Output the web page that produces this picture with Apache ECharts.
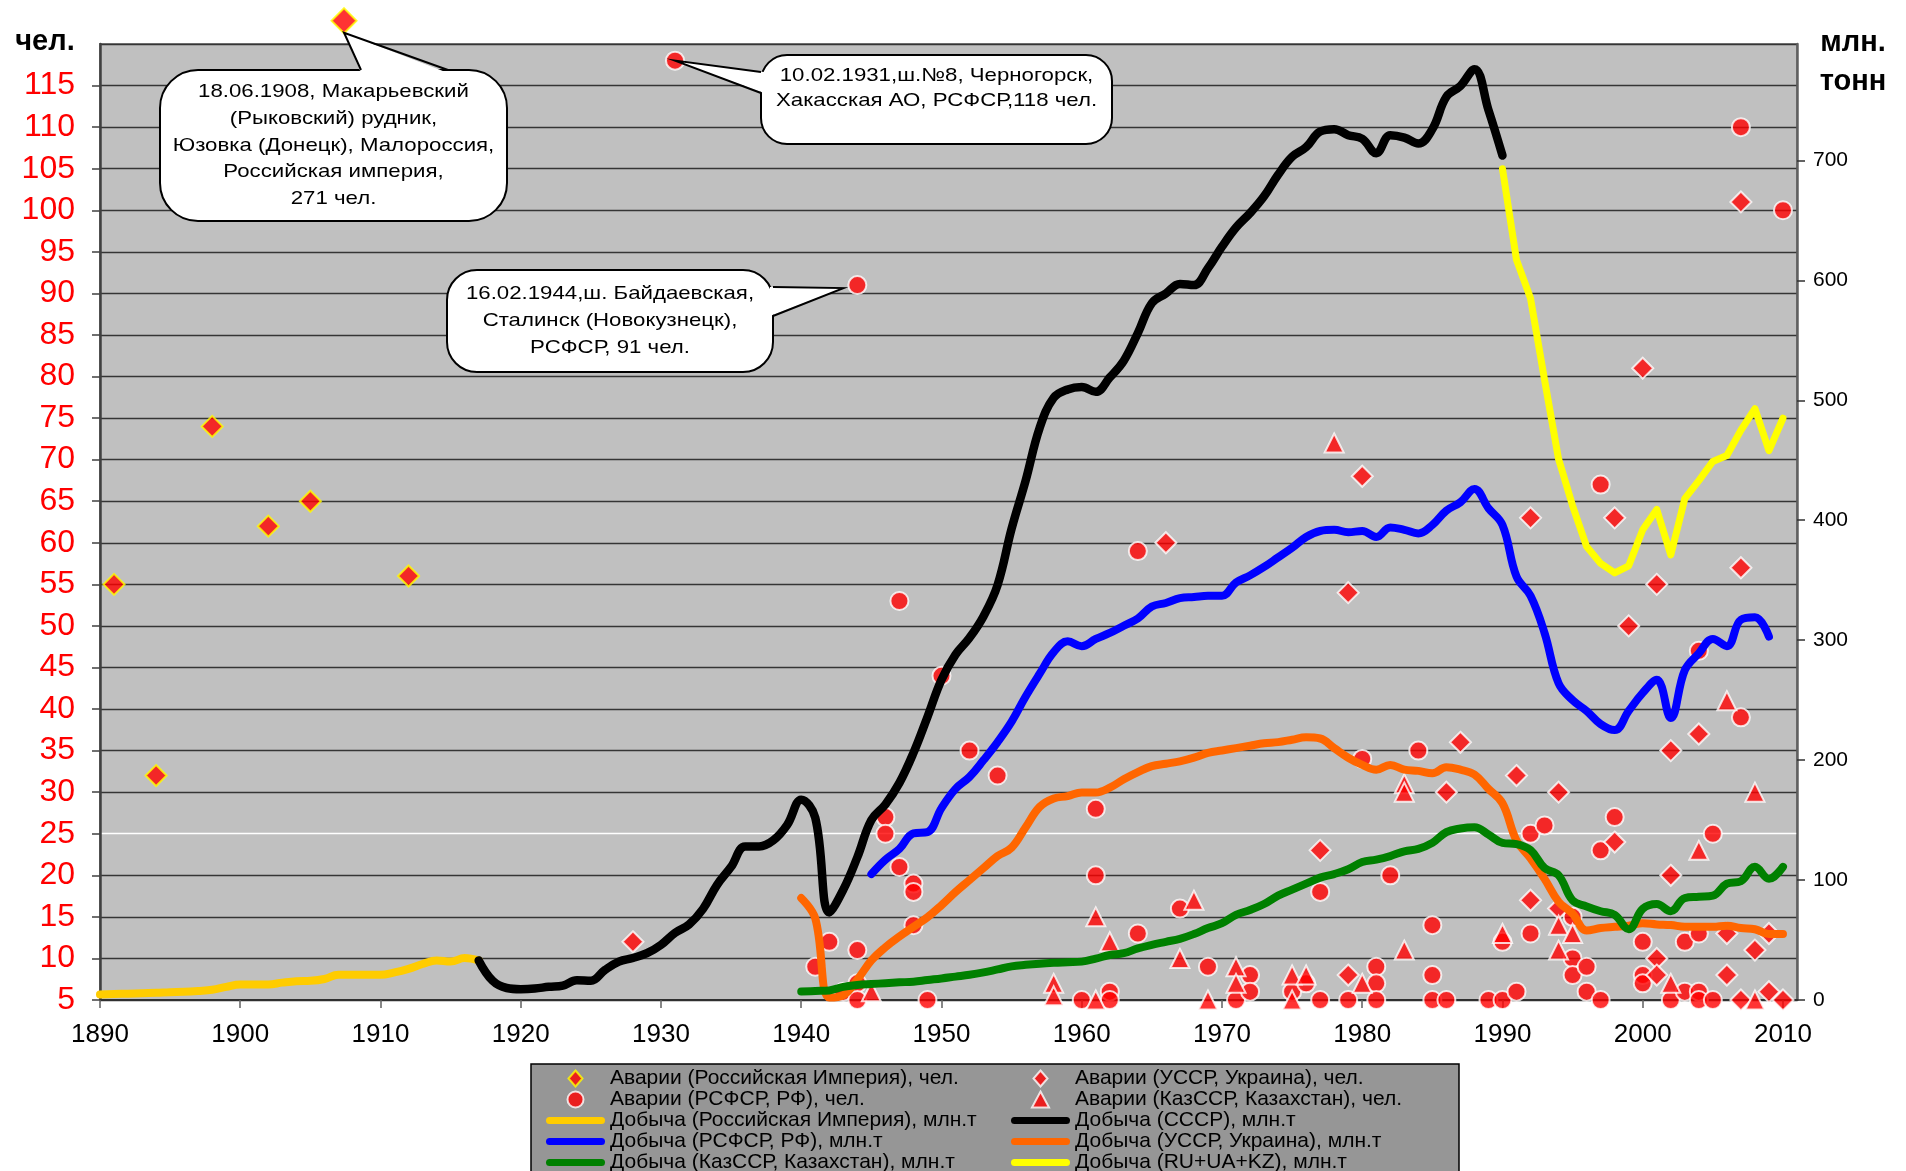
<!DOCTYPE html>
<html>
<head>
<meta charset="utf-8">
<title>Добыча угля и аварии на шахтах</title>
<script src="https://cdn.jsdelivr.net/npm/echarts@6/dist/echarts.min.js"></script>
<style>
  html, body { margin: 0; padding: 0; background: #ffffff; }
  #chart { width: 1906px; height: 1171px; }
</style>
</head>
<body>
<div id="chart"></div>
<script>
// ---------- данные ----------
// добыча, млн.т (по годам, начиная с указанного года)
const reStart = 1890;   // Российская Империя
const reOutput = [4.5, 5, 5.3, 5.7, 6, 6.5, 6.8, 7.5, 8.5, 11, 13, 13, 13, 14.5, 15.7, 16, 17.5, 21, 21, 21,
  21, 23, 26, 30, 33, 32, 35, 33];

const ussrStart = 1917; // СССР
const ussrOutput = [33, 16, 10, 9, 9.5, 11, 12, 16.5, 16, 25, 32, 35, 39, 46, 56, 63, 76, 96, 111, 128,
  128, 133, 146, 167, 152, 73, 92, 119, 150, 163, 181, 206, 236, 267, 288, 302, 320, 346, 393, 433,
  477, 502, 509, 511, 507, 519, 533, 556, 581, 589, 597, 596, 610, 628, 644, 656, 670, 688, 703, 711,
  724, 726, 721, 718, 706, 721, 719, 714, 726, 753, 762, 776, 742, 704];

const ruStart = 1945;   // РСФСР, РФ
const ruOutput = [105, 117, 126, 139, 140, 160, 176, 186, 200, 215, 232, 253, 272, 290, 299, 295, 301, 306,
  312, 318, 328, 331, 335, 336, 337, 337, 348, 354, 361, 369, 377, 386, 391, 392, 390, 391, 386, 394,
  392, 389, 396, 408, 415, 426, 410, 396, 353, 337, 306, 264, 250, 241, 230, 225, 241, 256, 267, 235,
  275, 289, 301, 295, 317, 319, 303];

const uaStart = 1940;   // УССР, Украина
const uaOutput = [85, 68, 2, 4, 17, 33, 44, 53, 61, 69, 79, 90, 100, 110, 120, 127, 144, 161, 168, 170,
  173, 173, 177, 184, 190, 195, 197, 199, 202, 206, 208, 210, 212, 214, 215, 217, 219, 218, 210, 202,
  196, 192, 196, 192, 191, 189, 194, 192, 188, 176, 164, 133, 118, 101, 82, 72, 58, 60, 61, 62,
  64, 63, 62.5, 61, 61, 61, 62, 60, 59, 55, 55];

const kzStart = 1940;   // КазССР, Казахстан
const kzOutput = [7, 7.5, 8, 11, 12.5, 13.3, 14, 14.7, 15.3, 16.7, 18, 19.5, 21, 23, 25.5, 28, 29.3, 30.3, 31, 31.5,
  32, 34.5, 37.5, 39, 43, 46, 48.5, 51, 55, 60, 64, 71, 75, 80, 87, 92, 97, 102, 105, 109,
  115, 117, 120, 124, 126, 131, 140, 143, 144, 138, 131, 130, 125, 110, 104, 83, 78, 74, 71, 59,
  76, 80, 74, 85, 86, 87, 97, 99, 111, 101, 111];

const sumStart = 1990;  // RU+UA+KZ
const sumOutput = [693, 617, 585, 517, 451, 412, 378, 364, 356, 362, 392, 409, 371, 418, 433, 449, 454, 475, 493, 458, 485];

// аварии, чел. [год, погибших]
const reAccidents = [[1891, 55], [1894, 32], [1898, 74], [1902, 62], [1905, 65], [1912, 56]];
// 1908 (271 чел.) выходит за шкалу: маркер нарисован над областью графика
const reOffscale = [[1907.4, 122.8]];

const ruAccidents = [[1931, 118], [1941, 9], [1942, 12], [1943, 6], [1944, 91], [1944, 11], [1944, 7], [1944, 5],
  [1946, 27], [1946, 25], [1947, 53], [1947, 21], [1948, 19], [1948, 18], [1948, 14], [1949, 5], [1950, 44],
  [1952, 35], [1954, 32], [1960, 5], [1961, 28], [1961, 20], [1962, 6], [1962, 5], [1964, 59], [1964, 13],
  [1967, 16], [1969, 9], [1971, 5], [1972, 8], [1972, 6], [1975, 6], [1976, 7], [1977, 18], [1977, 5],
  [1979, 5], [1980, 34], [1981, 9], [1981, 7], [1981, 5], [1982, 20], [1984, 35], [1985, 14], [1985, 8],
  [1985, 5], [1986, 5], [1989, 5], [1990, 12], [1990, 5], [1991, 6], [1992, 25], [1992, 13], [1993, 26],
  [1995, 15], [1995, 10], [1995, 8], [1996, 9], [1996, 6], [1997, 67], [1997, 23], [1997, 5], [1998, 27],
  [2000, 12], [2000, 8], [2000, 7], [2002, 5], [2003, 12], [2003, 6], [2004, 47], [2004, 13], [2004, 6],
  [2004, 5], [2005, 25], [2005, 5], [2007, 110], [2007, 39], [2010, 100]];

const uaAccidents = [[1928, 12], [1966, 60], [1977, 23], [1979, 54], [1979, 8], [1980, 68], [1986, 30], [1987, 36],
  [1991, 32], [1992, 63], [1992, 17], [1994, 30], [1994, 16], [1998, 63], [1998, 24], [1999, 50], [2000, 81],
  [2001, 55], [2001, 10], [2001, 8], [2002, 35], [2002, 20], [2004, 37], [2006, 13], [2006, 8], [2007, 101],
  [2007, 57], [2007, 5], [2008, 11], [2009, 13], [2009, 6], [2010, 5]];

const kzAccidents = [[1945, 6], [1958, 7], [1958, 5.5], [1961, 15], [1961, 5], [1962, 12], [1967, 10], [1968, 17],
  [1969, 5], [1971, 9], [1971, 7], [1975, 8], [1975, 5], [1976, 8], [1978, 72], [1980, 7], [1983, 31],
  [1983, 30], [1983, 11], [1990, 13], [1994, 14], [1994, 11], [1995, 13], [2002, 7], [2004, 23], [2006, 41],
  [2008, 30], [2008, 5]];

// подписи-выноски
const callouts = [
  { text: '18.06.1908, Макарьевский\n(Рыковский) рудник,\nЮзовка (Донецк), Малороссия,\nРоссийская империя,\n271 чел.', point: reOffscale[0] },
  { text: '10.02.1931,ш.№8, Черногорск,\nХакасская АО, РСФСР,118 чел.', point: [1931, 118] },
  { text: '16.02.1944,ш. Байдаевская,\nСталинск (Новокузнецк),\nРСФСР, 91 чел.', point: [1944, 91] }
];

const leftTicks = [5, 10, 15, 20, 25, 30, 35, 40, 45, 50, 55, 60, 65, 70, 75, 80, 85, 90, 95, 100, 105, 110, 115, 120];

// ---------- оформление ----------
const FONT = '"Liberation Sans", Arial, sans-serif';
const NARROW = '"Liberation Sans Narrow", "Liberation Sans", Arial, sans-serif';
const LINE_ICON = 'path://M3.5,0H55.5A3.5,3.5,0,0,1,55.5,7H3.5A3.5,3.5,0,0,1,3.5,0Z';
const DIAMOND_ICON = 'path://M7,0L14,8L7,16L0,8Z';
const TRIANGLE_ICON = 'path://M8,0L16,15L0,15Z';

const names = {
  reAcc: 'Аварии (Российская Империя), чел.',
  ruAcc: 'Аварии (РСФСР, РФ), чел.',
  uaAcc: 'Аварии (УССР, Украина), чел.',
  kzAcc: 'Аварии (КазССР, Казахстан), чел.',
  reOut: 'Добыча (Российская Империя), млн.т',
  ussrOut: 'Добыча (СССР), млн.т',
  ruOut: 'Добыча (РСФСР, РФ), млн.т',
  uaOut: 'Добыча (УССР, Украина), млн.т',
  kzOut: 'Добыча (КазССР, Казахстан), млн.т',
  sumOut: 'Добыча (RU+UA+KZ), млн.т'
};

const colors = {
  reOut: '#FFCC00', ussrOut: '#000000', ruOut: '#0000FF',
  uaOut: '#FF6600', kzOut: '#008000', sumOut: '#FFFF00'
};

function byYear(start, values) {
  return values.map((v, i) => [start + i, v]);
}

function lineSeries(key, start, values, smooth, width) {
  return {
    name: names[key],
    type: 'line',
    yAxisIndex: 1,
    data: byYear(start, values),
    symbol: 'none',
    smooth: smooth,
    color: colors[key],
    lineStyle: { color: colors[key], width: width, cap: 'round', join: 'round' },
    itemStyle: { color: colors[key] },
    z: 3
  };
}

function scatterSeries(name, data, symbol, size, border) {
  return {
    name: name,
    type: 'scatter',
    yAxisIndex: 0,
    data: data,
    symbol: symbol,
    symbolSize: size,
    clip: false,
    itemStyle: { color: '#FF0000', borderColor: border, borderWidth: 2 },
    z: 2
  };
}

function lineLegend(key) {
  return { name: names[key], icon: LINE_ICON, itemStyle: { color: colors[key], borderWidth: 0 } };
}
function markLegend(key, icon, border) {
  return { name: names[key], icon: icon, itemStyle: { color: '#FF0000', borderColor: border, borderWidth: 2 } };
}

const chart = echarts.init(document.getElementById('chart'));

const legendBase = {
  orient: 'vertical',
  top: 1068,
  height: 300,
  padding: 0,
  itemWidth: 59,
  itemHeight: 16,
  itemGap: 0,
  symbolKeepAspect: true,
  selectedMode: false,
  textStyle: { color: '#000', fontSize: 21, lineHeight: 19.75, fontFamily: FONT }
};

const option = {
  animation: false,
  backgroundColor: '#ffffff',
  grid: {
    left: 100, right: 109, top: 44, bottom: 171,
    show: true, backgroundColor: '#C0C0C0', borderColor: '#808080', borderWidth: 2,
    outerBoundsMode: 'none'
  },
  legend: [
    Object.assign({}, legendBase, {
      left: 546,
      data: [markLegend('reAcc', DIAMOND_ICON, '#FFFF00'), markLegend('ruAcc', 'circle', '#FFFFFF'),
        lineLegend('reOut'), lineLegend('ruOut'), lineLegend('kzOut')]
    }),
    Object.assign({}, legendBase, {
      left: 1011,
      data: [markLegend('uaAcc', DIAMOND_ICON, '#FFFFFF'), markLegend('kzAcc', TRIANGLE_ICON, '#FFFFFF'),
        lineLegend('ussrOut'), lineLegend('uaOut'), lineLegend('sumOut')]
    })
  ],
  xAxis: {
    type: 'value', min: 1890, max: 2011, interval: 10,
    axisLine: { show: true, onZero: false, lineStyle: { color: '#303030', width: 2 } },
    axisTick: { show: true, length: 8, lineStyle: { color: '#606060', width: 1.5 } },
    axisLabel: { color: '#000', fontSize: 26, margin: 22, showMaxLabel: false, fontFamily: NARROW,
      formatter: v => String(v) },
    splitLine: { show: false }
  },
  yAxis: [
    {
      type: 'value', min: 5, max: 120, interval: 5, position: 'left',
      axisLine: { show: true, lineStyle: { color: '#404040', width: 2.5 } },
      axisTick: { show: true, length: 8, lineStyle: { color: '#404040', width: 1.5 } },
      axisLabel: { color: '#FF0000', fontSize: 32, margin: 25, showMaxLabel: false, fontFamily: FONT },
      splitLine: {
        show: true,
        lineStyle: { width: 1.3, color: leftTicks.map(v => (v === 25 ? '#FFFFFF' : '#353535')) }
      }
    },
    {
      type: 'value', min: 0, max: 797, interval: 100, position: 'right',
      axisLine: { show: true, lineStyle: { color: '#606060', width: 2.5 } },
      axisTick: { show: true, length: 8, lineStyle: { color: '#303030', width: 1.5 } },
      axisLabel: { color: '#000', fontSize: 21, margin: 16, showMaxLabel: false, fontFamily: FONT },
      splitLine: { show: false }
    }
  ],
  series: [
    scatterSeries(names.reAcc, reAccidents, 'diamond', 21, '#FFFF00'),
    scatterSeries('1908', reOffscale, 'diamond', 25, '#FFFF00'),
    scatterSeries(names.ruAcc, ruAccidents, 'circle', 18, '#FFFFFF'),
    scatterSeries(names.uaAcc, uaAccidents, 'diamond', 21, '#FFFFFF'),
    scatterSeries(names.kzAcc, kzAccidents, 'triangle', 19, '#FFFFFF'),
    lineSeries('reOut', reStart, reOutput, 0.4, 8),
    lineSeries('ussrOut', ussrStart, ussrOutput, 0.4, 8.5),
    lineSeries('ruOut', ruStart, ruOutput, 0.4, 8),
    lineSeries('uaOut', uaStart, uaOutput, 0.4, 8),
    lineSeries('kzOut', kzStart, kzOutput, 0.4, 8),
    lineSeries('sumOut', sumStart, sumOutput, false, 7)
  ]
};

chart.setOption(option);

// ---------- выноски и подписи осей ----------
function toPx(p) {
  return chart.convertToPixel({ xAxisIndex: 0, yAxisIndex: 0 }, p);
}

const boxes = [
  { x: 160, y: 70, w: 347, h: 151, r: 38, lh: 26.7, tail: 'top', base: [361, 448], tipOff: [0, 12] },
  { x: 761, y: 55, w: 351, h: 89, r: 26, lh: 25.5, tail: 'left', base: [72, 93], tipOff: [0, 0] },
  { x: 447, y: 270, w: 326, h: 102, r: 30, lh: 27, tail: 'right', base: [287, 316], tipOff: [-14, 3] }
];

const graphics = [
  // фон легенды
  { type: 'rect', shape: { x: 531, y: 1064, width: 928, height: 130 },
    style: { fill: '#969696', stroke: '#000', lineWidth: 1.5 }, z: -1, silent: true },
  { type: 'text', x: 45, y: 42, style: { text: 'чел.', fontSize: 29, fontWeight: 'bold', fill: '#000',
    fontFamily: FONT, align: 'center', verticalAlign: 'middle' } },
  { type: 'text', x: 1853, y: 23, style: { text: 'млн.\nтонн', fontSize: 29, fontWeight: 'bold', fill: '#000',
    fontFamily: FONT, align: 'center', verticalAlign: 'top', lineHeight: 39 } }
];

callouts.forEach((c, i) => {
  const b = boxes[i];
  const p = toPx(c.point);
  const tip = [p[0] + b.tipOff[0], p[1] + b.tipOff[1]];
  let b1, b2, f1, f2;
  if (b.tail === 'top') {
    b1 = [b.base[0], b.y]; b2 = [b.base[1], b.y];
    f1 = [b.base[0], b.y + 3]; f2 = [b.base[1], b.y + 3];
  } else if (b.tail === 'left') {
    b1 = [b.x, b.base[0]]; b2 = [b.x, b.base[1]];
    f1 = [b.x + 3, b.base[0]]; f2 = [b.x + 3, b.base[1]];
  } else {
    b1 = [b.x + b.w, b.base[0]]; b2 = [b.x + b.w, b.base[1]];
    f1 = [b.x + b.w - 3, b.base[0]]; f2 = [b.x + b.w - 3, b.base[1]];
  }
  const nLines = c.text.split('\n').length;
  graphics.push(
    { type: 'rect', shape: { x: b.x, y: b.y, width: b.w, height: b.h, r: b.r },
      style: { fill: '#FFFFFF', stroke: '#000', lineWidth: 2 }, z: 100 },
    { type: 'polygon', shape: { points: [f1, tip, f2] }, style: { fill: '#FFFFFF' }, z: 101 },
    { type: 'polyline', shape: { points: [b1, tip, b2] }, style: { stroke: '#000', lineWidth: 2, fill: null }, z: 102 },
    { type: 'text', x: b.x + b.w / 2, y: (i === 1 ? b.y + 8 : b.y + (b.h - nLines * b.lh) / 2), scaleX: 1.17, z: 103,
      style: { text: c.text, fontSize: 19, fill: '#000', fontFamily: FONT, align: 'center',
        verticalAlign: 'top', lineHeight: b.lh } }
  );
});

chart.setOption({ graphic: graphics });
</script>
</body>
</html>
